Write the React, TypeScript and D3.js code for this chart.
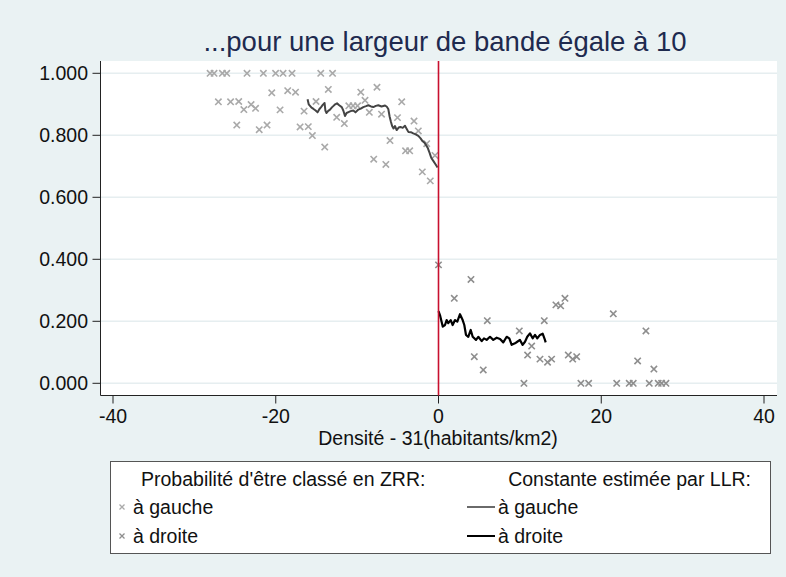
import { line, scaleLinear, symbol, symbolX } from 'd3';

// Regression discontinuity plot: observed share per density bin + LLR fit on each side.

const xTicks = [-40, -20, 0, 20, 40];
const yTicks = [0, 0.2, 0.4, 0.6, 0.8, 1.0];

// [density - 31, share classified ZRR]
const obsLeft: [number, number][] = [
  [-28.07, 1.0], [-27.58, 1.0], [-26.56, 1.0], [-26.02, 1.0], [-23.53, 1.0], [-21.52, 1.0],
  [-20.02, 1.0], [-19.1, 1.0], [-18.0, 1.0], [-14.47, 1.0], [-13.02, 1.0],
  [-27.05, 0.908], [-25.55, 0.908], [-24.55, 0.909], [-23.92, 0.883], [-23.03, 0.899],
  [-22.48, 0.887], [-20.49, 0.937], [-19.47, 0.882], [-18.53, 0.944], [-17.57, 0.939],
  [-16.52, 0.878], [-15.05, 0.909], [-13.54, 0.948], [-24.79, 0.833], [-22.03, 0.818],
  [-21.07, 0.833], [-17.01, 0.827], [-16.0, 0.828], [-15.5, 0.799], [-13.98, 0.762],
  [-12.51, 0.858], [-11.57, 0.838], [-11.02, 0.895], [-10.5, 0.895], [-9.95, 0.895],
  [-9.55, 0.939], [-9.03, 0.913], [-8.5, 0.874], [-7.56, 0.955], [-7.0, 0.868],
  [-7.96, 0.723], [-6.47, 0.706], [-5.96, 0.783], [-5.04, 0.857], [-4.52, 0.908],
  [-4.05, 0.75], [-3.54, 0.75], [-3.01, 0.846], [-2.48, 0.814], [-1.99, 0.682],
  [-1.45, 0.773], [-1.01, 0.653], [-0.43, 0.735],
];

const obsRight: [number, number][] = [
  [0.0, 0.382], [1.94, 0.274], [3.99, 0.335], [4.4, 0.086], [5.5, 0.043], [6.0, 0.202],
  [9.93, 0.169], [10.5, 0.0], [10.95, 0.091], [11.45, 0.12], [12.47, 0.078], [13.0, 0.202],
  [13.4, 0.068], [13.9, 0.078], [14.43, 0.253], [15.01, 0.25], [15.54, 0.274], [15.95, 0.091],
  [16.49, 0.078], [16.98, 0.086], [17.5, 0.0], [18.45, 0.0], [21.48, 0.224], [21.9, 0.0],
  [23.44, 0.0], [23.93, 0.0], [24.47, 0.072], [25.49, 0.169], [25.9, 0.0], [26.47, 0.046],
  [27.0, 0.0], [27.42, 0.0], [27.95, 0.0],
];

const llrLeft: [number, number][] = [
  [-16.09, 0.916], [-15.95, 0.9], [-15.79, 0.895], [-15.6, 0.889], [-15.36, 0.885], [-15.1, 0.88],
  [-14.86, 0.874], [-14.65, 0.884], [-14.43, 0.891], [-14.2, 0.899], [-14.0, 0.904], [-13.9, 0.88],
  [-13.76, 0.872], [-13.55, 0.879], [-13.33, 0.883], [-13.1, 0.89], [-12.9, 0.895], [-12.7, 0.9],
  [-12.47, 0.903], [-12.2, 0.897], [-11.89, 0.891], [-11.7, 0.88], [-11.49, 0.862], [-11.3, 0.872],
  [-11.06, 0.875], [-10.8, 0.878], [-10.47, 0.88], [-10.2, 0.874], [-9.85, 0.883], [-9.55, 0.886],
  [-9.24, 0.891], [-8.9, 0.894], [-8.62, 0.897], [-8.3, 0.893], [-8.01, 0.891], [-7.7, 0.895],
  [-7.4, 0.897], [-7.0, 0.893], [-6.57, 0.896], [-6.35, 0.892], [-6.17, 0.885], [-6.0, 0.86],
  [-5.84, 0.843], [-5.7, 0.83], [-5.53, 0.822], [-5.35, 0.83], [-5.14, 0.817], [-4.9, 0.825],
  [-4.67, 0.827], [-4.4, 0.824], [-4.12, 0.831], [-3.9, 0.82], [-3.71, 0.811], [-3.4, 0.81],
  [-3.1, 0.806], [-2.8, 0.803], [-2.48, 0.798], [-2.2, 0.79], [-1.99, 0.782], [-1.75, 0.777],
  [-1.54, 0.769], [-1.3, 0.758], [-1.13, 0.746], [-0.95, 0.732], [-0.84, 0.725], [-0.6, 0.716],
  [-0.43, 0.709], [-0.12, 0.696],
];

const llrRight: [number, number][] = [
  [0.0, 0.233], [0.18, 0.22], [0.52, 0.183], [0.8, 0.188], [1.0, 0.204], [1.2, 0.194],
  [1.5, 0.204], [1.74, 0.188], [2.03, 0.204], [2.31, 0.199], [2.64, 0.223], [2.97, 0.204],
  [3.17, 0.188], [3.38, 0.156], [3.66, 0.15], [3.96, 0.172], [4.2, 0.15], [4.61, 0.14],
  [4.89, 0.15], [5.31, 0.136], [5.59, 0.145], [5.92, 0.14], [6.33, 0.15], [6.73, 0.14],
  [7.15, 0.147], [7.56, 0.143], [7.96, 0.132], [8.38, 0.15], [8.7, 0.145], [8.99, 0.124],
  [9.4, 0.129], [9.68, 0.134], [10.01, 0.14], [10.34, 0.124], [10.63, 0.134], [10.91, 0.15],
  [11.24, 0.161], [11.57, 0.145], [11.86, 0.156], [12.14, 0.145], [12.47, 0.156], [12.8, 0.16],
  [13.08, 0.14], [13.17, 0.132],
];

const title = '...pour une largeur de bande égale à 10';
const xTitle = 'Densité - 31(habitants/km2)';
const legendTitles = ["Probabilité d'être classé en ZRR:", 'Constante estimée par LLR:'];
const legendLabels = ['à gauche', 'à droite'];

const W = 786;
const H = 577;
const plot = { left: 100.5, right: 777, top: 61, bottom: 395.5 };
const font = '"Liberation Sans", Arial, sans-serif';
const bg = '#eaf2f3';
const colLeft = '#a9a9a9';
const colRight = '#8e8e8e';
const fs = 19.5;

export default function App() {
  const x = scaleLinear().domain([-40, 40]).range([113, 764]);
  const y = scaleLinear().domain([0, 1]).range([383.3, 73.3]);
  const ln = line<[number, number]>().x((d) => x(d[0])).y((d) => y(d[1]));
  const mark = symbol(symbolX, 28)() ?? '';
  const keyMark = symbol(symbolX, 18)() ?? '';

  const legTop = 461;
  const legRows = [479, 507, 536];

  return (
    <div style={{ position: 'absolute', left: 0, top: 0 }}>
      <svg width={W} height={H} viewBox={`0 0 ${W} ${H}`} style={{ display: 'block', fontFamily: font }}>
        <rect width={W} height={H} fill={bg} />
        <text x={445} y={51} textAnchor="middle" fill="#1e2a4f" style={{ fontSize: 27.5 }}>
          {title}
        </text>

        <rect x={plot.left} y={plot.top} width={plot.right - plot.left} height={plot.bottom - plot.top} fill="#fff" />
        {yTicks.map((t) => (
          <line key={t} x1={plot.left} x2={plot.right} y1={y(t)} y2={y(t)} stroke="#e6eef0" strokeWidth={1.5} />
        ))}

        {/* axes */}
        <line x1={plot.left} x2={plot.left} y1={plot.top} y2={plot.bottom} stroke="#222" strokeWidth={1} />
        <line x1={plot.left} x2={plot.right} y1={plot.bottom} y2={plot.bottom} stroke="#222" strokeWidth={1} />
        {yTicks.map((t) => (
          <g key={t}>
            <line x1={plot.left - 8} x2={plot.left} y1={y(t)} y2={y(t)} stroke="#222" />
            <text x={88} y={y(t)} dy="0.36em" textAnchor="end" fill="#111" style={{ fontSize: fs }}>
              {t.toFixed(3)}
            </text>
          </g>
        ))}
        {xTicks.map((t) => (
          <g key={t}>
            <line x1={x(t)} x2={x(t)} y1={plot.bottom} y2={plot.bottom + 8} stroke="#222" />
            <text x={x(t)} y={423} textAnchor="middle" fill="#111" style={{ fontSize: fs }}>
              {t}
            </text>
          </g>
        ))}
        <text x={438} y={445} textAnchor="middle" fill="#111" style={{ fontSize: fs }}>
          {xTitle}
        </text>

        {/* observations */}
        {obsLeft.map((d, i) => (
          <path key={`l${i}`} d={mark} transform={`translate(${x(d[0])},${y(d[1])})`} fill="none" stroke={colLeft} strokeWidth={1.6} />
        ))}
        {obsRight.map((d, i) => (
          <path key={`r${i}`} d={mark} transform={`translate(${x(d[0])},${y(d[1])})`} fill="none" stroke={colRight} strokeWidth={1.6} />
        ))}

        {/* LLR fits */}
        <path d={ln(llrLeft) ?? undefined} fill="none" stroke="#444" strokeWidth={2} strokeLinejoin="round" />
        <path d={ln(llrRight) ?? undefined} fill="none" stroke="#000" strokeWidth={2.2} strokeLinejoin="round" />

        {/* cutoff */}
        <line x1={x(0)} x2={x(0)} y1={plot.top} y2={plot.bottom} stroke="#c8102e" strokeWidth={1.6} />

        {/* legend */}
        <rect x={110.5} y={legTop + 0.5} width={660} height={92} fill="#fff" stroke="#555" strokeWidth={1} />
        <text x={141} y={legRows[0]} dy="0.35em" fill="#111" style={{ fontSize: fs }}>
          {legendTitles[0]}
        </text>
        <text x={751} y={legRows[0]} dy="0.35em" textAnchor="end" fill="#111" style={{ fontSize: fs }}>
          {legendTitles[1]}
        </text>
        {legendLabels.map((lab, i) => (
          <g key={lab}>
            <path
              d={keyMark}
              transform={`translate(122,${legRows[i + 1]})`}
              fill="none"
              stroke={i === 0 ? colLeft : colRight}
              strokeWidth={1.3}
            />
            <text x={133} y={legRows[i + 1]} dy="0.35em" fill="#111" style={{ fontSize: fs }}>
              {lab}
            </text>
            <line x1={467} x2={495} y1={legRows[i + 1]} y2={legRows[i + 1]} stroke={i === 0 ? '#444' : '#000'} strokeWidth={i === 0 ? 1.6 : 2} />
            <text x={498} y={legRows[i + 1]} dy="0.35em" fill="#111" style={{ fontSize: fs }}>
              {lab}
            </text>
          </g>
        ))}
      </svg>
    </div>
  );
}
